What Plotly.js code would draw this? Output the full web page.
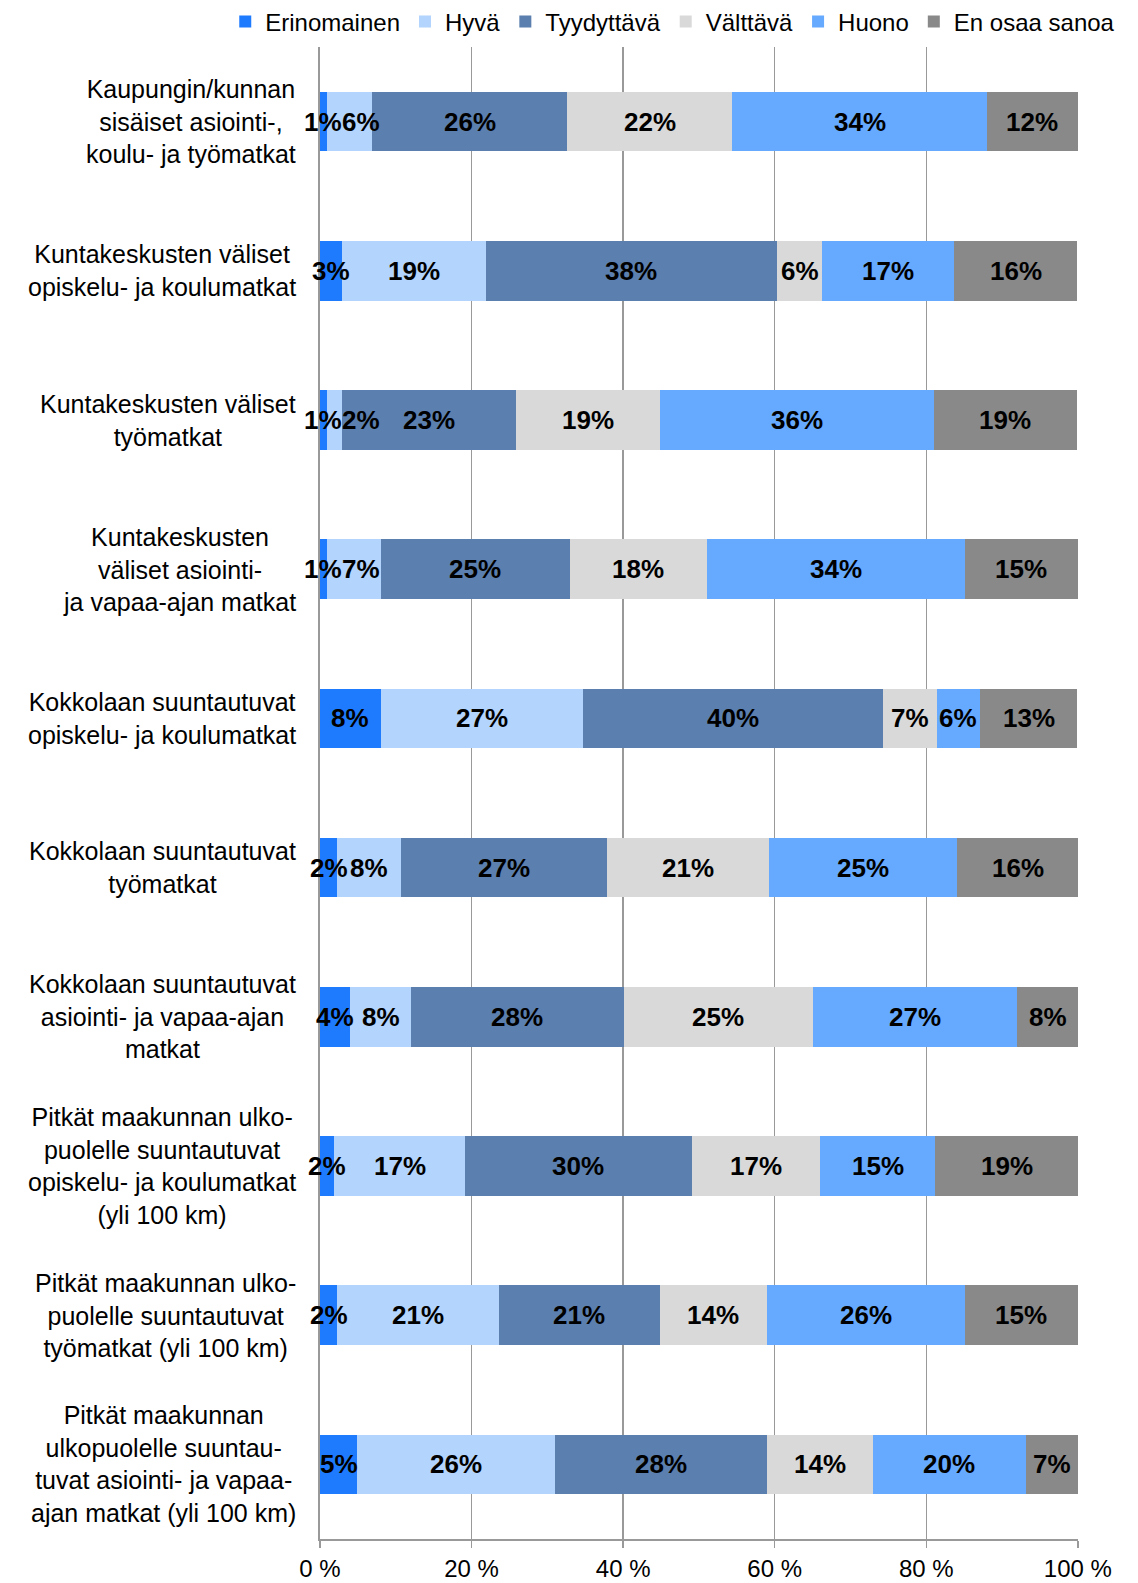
<!DOCTYPE html>
<html>
<head>
<meta charset="utf-8">
<script src="https://cdn.plot.ly/plotly-3.0.1.min.js"></script>
<style>
  body { margin: 0; background: #fff; }
  #chart { width: 1138px; height: 1583px; }
</style>
</head>
<body>
<div id="chart"></div>
<script>
// Category labels (line breaks as in the original)
const categories = [
    'Kaupungin/kunnan<br>sisäiset asiointi-,<br>koulu- ja työmatkat',
    'Kuntakeskusten väliset<br>opiskelu- ja koulumatkat',
    'Kuntakeskusten väliset<br>työmatkat',
    'Kuntakeskusten<br>väliset asiointi-<br>ja vapaa-ajan matkat',
    'Kokkolaan suuntautuvat<br>opiskelu- ja koulumatkat',
    'Kokkolaan suuntautuvat<br>työmatkat',
    'Kokkolaan suuntautuvat<br>asiointi- ja vapaa-ajan<br>matkat',
    'Pitkät maakunnan ulko-<br>puolelle suuntautuvat<br>opiskelu- ja koulumatkat<br>(yli 100 km)',
    'Pitkät maakunnan ulko-<br>puolelle suuntautuvat<br>työmatkat (yli 100 km)',
    'Pitkät maakunnan<br>ulkopuolelle suuntau-<br>tuvat asiointi- ja vapaa-<br>ajan matkat (yli 100 km)'
];

// Share of answers (%) per category
const erinomainen = [0.9, 2.9, 0.9, 0.9, 8.0, 2.3, 4.0, 1.9, 2.3, 4.9];
const hyva        = [6.0, 19.0, 2.0, 7.1, 26.7, 8.4, 8.0, 17.2, 21.3, 26.1];
const tyydyttava  = [25.7, 38.4, 23.0, 25.0, 39.6, 27.2, 28.1, 30.0, 21.2, 28.0];
const valttava    = [21.8, 6.0, 19.0, 18.0, 7.1, 21.3, 24.9, 16.9, 14.2, 14.0];
const huono       = [33.6, 17.4, 36.1, 34.1, 5.7, 24.9, 27.0, 15.2, 26.1, 20.1];
const enOsaa      = [12.0, 16.2, 18.9, 14.9, 12.85, 15.9, 8.0, 18.8, 14.9, 6.9];

const tickVals = [0, 20, 40, 60, 80, 100];
const tickText = ['0 %', '20 %', '40 %', '60 %', '80 %', '100 %'];

const seriesNames = ['Erinomainen', 'Hyvä', 'Tyydyttävä', 'Välttävä', 'Huono', 'En osaa sanoa'];
const seriesValues = [erinomainen, hyva, tyydyttava, valttava, huono, enOsaa];
const colors = ['#1f7bfe', '#b3d4fc', '#5b7fae', '#d9d9d9', '#66aaff', '#898989'];

const font = 'Liberation Sans, Arial, sans-serif';
const idx = categories.map((_, i) => i);

const W = 1138, H = 1583;
const margin = { l: 320, r: 60, t: 47, b: 44, autoexpand: false };
const xMax = 100.02;
const pxPerUnit = (W - margin.l - margin.r) / xMax;
const labelSize = 26;

let traces = seriesNames.map((name, s) => ({
    type: 'bar',
    orientation: 'h',
    name: name,
    x: seriesValues[s],
    y: idx,
    marker: { color: colors[s], line: { width: 0 } },
    textposition: 'none',
    hoverinfo: 'x+name'
}));

// Category labels as centered multi-line annotations left of the axis
let annotations = categories.map((c, i) => ({
    text: c,
    x: 0, xref: 'paper', xanchor: 'right', xshift: -22,
    y: i, yref: 'y', yanchor: 'middle',
    align: 'center',
    showarrow: false,
    font: { family: font, size: 25, color: '#000' }
}));

// Value labels drawn on top of all bars; nudged right when they would collide
idx.forEach(r => {
    let cum = 0;
    let prevRight = -Infinity;
    seriesValues.forEach(vals => {
        const v = vals[r];
        const mid = cum + v / 2;
        cum += v;
        const label = Math.round(v) + '%';
        const w = (String(Math.round(v)).length * 0.556 + 0.889) * labelSize;
        const cx = mid * pxPerUnit;
        const shift = Math.max(0, prevRight + w / 2 - cx);
        prevRight = cx + shift + w / 2;
        annotations.push({
            text: '<b>' + label + '</b>',
            x: mid, xref: 'x', y: r, yref: 'y',
            xshift: shift,
            showarrow: false,
            borderpad: 0,
            font: { family: font, size: labelSize, color: '#000' }
        });
    });
});

let layout = {
    width: W,
    height: H,
    margin: margin,
    barmode: 'stack',
    bargap: 0.6,
    paper_bgcolor: '#fff',
    plot_bgcolor: '#fff',
    font: { family: font, color: '#000' },
    showlegend: true,
    legend: {
        orientation: 'h',
        x: -0.125, xanchor: 'left',
        y: 1.0168, yanchor: 'middle',
        font: { family: font, size: 24 },
        itemwidth: 30,
        traceorder: 'normal'
    },
    xaxis: {
        range: [0, xMax],
        tickvals: tickVals,
        ticktext: tickText,
        tickfont: { family: font, size: 24 },
        showgrid: true,
        gridcolor: '#999',
        gridwidth: 1.5,
        showline: true,
        linecolor: '#999',
        linewidth: 2,
        ticks: 'outside',
        ticklen: 7,
        tickcolor: '#999',
        tickwidth: 1.5,
        zeroline: false,
        fixedrange: true
    },
    yaxis: {
        range: [9.5, -0.5],
        showticklabels: false,
        showgrid: false,
        showline: true,
        linecolor: '#999',
        linewidth: 2,
        zeroline: false,
        ticks: '',
        fixedrange: true
    },
    annotations: annotations
};

Plotly.newPlot('chart', traces, layout, { displayModeBar: false, staticPlot: true });
</script>
</body>
</html>
